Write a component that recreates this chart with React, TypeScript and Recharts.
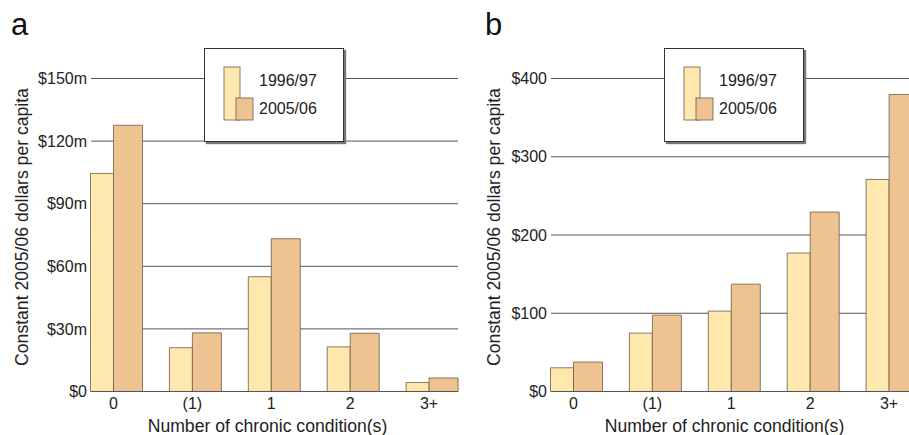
import { Bar, BarChart, CartesianGrid, Legend, XAxis, YAxis } from "recharts";

const categories = ["0", "(1)", "1", "2", "3+"];
const seriesNames = ["1996/97", "2005/06"];

// panel a: total spending, $m
const totalOld = [104.5, 21, 55, 21.4, 4.3];
const totalNew = [127.6, 28.1, 73.2, 27.9, 6.5];
const ticksA = [0, 30, 60, 90, 120, 150];

// panel b: per capita, $
const perCapOld = [30.3, 74.6, 102.7, 176.9, 271];
const perCapNew = [37.6, 97.6, 137.2, 229.3, 379.6];
const ticksB = [0, 100, 200, 300, 400];

const FONT = '"Liberation Sans", Arial, Helvetica, sans-serif';
const YELLOW = "#fee8ae";
const ORANGE = "#efc391";
const EDGE = "#6e5a48";
const GRID = "#555";

function LegendBox({ payload }: any) {
  const items = payload || [];
  return (
    <div
      style={{
        width: 140,
        height: 94,
        boxSizing: "border-box",
        background: "#fff",
        border: "1.5px solid #333",
        boxShadow: "2px 2px 1px #777",
        fontFamily: FONT,
      }}
    >
      <svg width={137} height={91}>
        <rect x={19} y={18} width={16} height={53} fill={YELLOW} stroke={EDGE} strokeWidth={0.8} />
        <rect x={31} y={49} width={17} height={22} fill={ORANGE} stroke={EDGE} strokeWidth={0.8} />
        {items.map((it: any, i: number) => (
          <text key={i} x={54} y={37 + i * 28} fontSize={16} fill="#222">
            {it.value}
          </text>
        ))}
      </svg>
    </div>
  );
}

function Panel({
  left,
  oldVals,
  newVals,
  ticks,
  fmt,
  yLabelX,
  xLabelX,
}: {
  left: number;
  oldVals: number[];
  newVals: number[];
  ticks: number[];
  fmt: (v: number) => string;
  yLabelX: number;
  xLabelX: number;
}) {
  const data = categories.map((c, i) => ({ cat: c, old: oldVals[i], now: newVals[i] }));
  return (
    <div style={{ position: "absolute", left, top: 0 }}>
      <BarChart
        width={460}
        height={435}
        data={data}
        margin={{ top: 78.5, right: 2, left: 31, bottom: 13.5 }}
        barGap={0}
      >
        <CartesianGrid vertical={false} stroke={GRID} strokeWidth={1} />
        <XAxis
          dataKey="cat"
          height={30}
          padding={{ left: -13.5, right: -14 }}
          axisLine={{ stroke: GRID }}
          tickLine={false}
          tickSize={2}
          tickMargin={4}
          tick={{ fill: "#222", fontSize: 16, fontFamily: FONT, dx: -3.5 }}
          interval={0}
          label={{
            content: () => (
              <text x={xLabelX} y={432} textAnchor="middle" fontSize={17.6} fontFamily={FONT} fill="#222">
                Number of chronic condition(s)
              </text>
            ),
          }}
        />
        <YAxis
          width={60}
          domain={[0, ticks[ticks.length - 1]]}
          ticks={ticks}
          tickFormatter={fmt}
          axisLine={false}
          tickLine={false}
          tickSize={4}
          tickMargin={0}
          tick={{ fill: "#222", fontSize: 16, fontFamily: FONT }}
          label={{
            content: () => (
              <text
                x={yLabelX}
                y={227}
                transform={`rotate(-90, ${yLabelX}, 227)`}
                textAnchor="middle"
                fontSize={17.6}
                fontFamily={FONT}
                fill="#222"
              >
                Constant 2005/06 dollars per capita
              </text>
            ),
          }}
        />
        <Legend
          layout="vertical"
          align="center"
          verticalAlign="middle"
          wrapperStyle={{ left: 204, top: 48, width: 140, height: 94 }}
          content={<LegendBox />}
        />
        <Bar
          dataKey="old"
          name={seriesNames[0]}
          fill={YELLOW}
          stroke={EDGE}
          strokeWidth={0.8}
          barSize={23}
          isAnimationActive={false}
        />
        <Bar
          dataKey="now"
          name={seriesNames[1]}
          fill={ORANGE}
          stroke={EDGE}
          strokeWidth={0.8}
          barSize={29}
          isAnimationActive={false}
        />
      </BarChart>
    </div>
  );
}

const letterStyle: React.CSSProperties = {
  position: "absolute",
  top: 9,
  fontFamily: FONT,
  fontSize: 31,
  lineHeight: "31px",
  color: "#111",
};

export default function App() {
  return (
    <div
      style={{
        position: "absolute",
        left: 0,
        top: 0,
        width: 909,
        height: 435,
        overflow: "hidden",
        background: "#fff",
      }}
    >
      <Panel
        left={0}
        oldVals={totalOld}
        newVals={totalNew}
        ticks={ticksA}
        fmt={(v) => (v === 0 ? "$0" : `$${v}m`)}
        yLabelX={28}
        xLabelX={267.5}
      />
      <Panel
        left={460}
        oldVals={perCapOld}
        newVals={perCapNew}
        ticks={ticksB}
        fmt={(v) => `$${v}`}
        yLabelX={39.5}
        xLabelX={264.5}
      />
      <div style={{ ...letterStyle, left: 11 }}>a</div>
      <div style={{ ...letterStyle, left: 485 }}>b</div>
    </div>
  );
}
